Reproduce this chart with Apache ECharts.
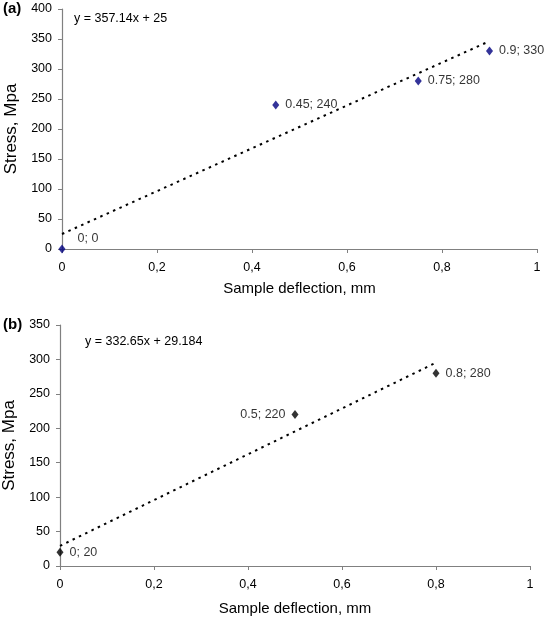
<!DOCTYPE html>
<html>
<head>
<meta charset="utf-8">
<script src="https://cdn.jsdelivr.net/npm/echarts@6/dist/echarts.min.js"></script>
<style>
html,body{margin:0;padding:0;background:#fff;}
#c{width:544px;height:617px;}
</style>
</head>
<body>
<div id="c"></div>
<script>
// Panel (a)
const xA = [0, 0.45, 0.75, 0.9];
const yA = [0, 240, 280, 330];
const trendA = [[0, 25], [0.9, 346.4]];
const eqA = 'y = 357.14x + 25';
// Panel (b)
const xB = [0, 0.5, 0.8];
const yB = [20, 220, 280];
const trendB = [[0, 29.2], [0.8, 295.3]];
const eqB = 'y = 332.65x + 29.184';
// ticks
const xTicks = [0, 0.2, 0.4, 0.6, 0.8, 1];

const FONT = '"Liberation Sans", Arial, sans-serif';
const axisGray = '#808080';

function xAxisCfg(gi, gap){
  return {
    type:'value', gridIndex:gi, min:0, max:1, interval:0.2,
    name:'Sample deflection, mm', nameLocation:'middle', nameGap:gap,
    nameTextStyle:{fontFamily:FONT, fontSize:15, color:'#000'},
    axisLine:{show:true, lineStyle:{color:axisGray, width:1.2}},
    axisTick:{show:true, length:4, lineStyle:{color:axisGray}},
    axisLabel:{margin:12, fontFamily:FONT, fontSize:12.5, color:'#000',
      formatter:v=>String(+v.toFixed(2)).replace('.',',')},
    splitLine:{show:false}
  };
}
function yAxisCfg(gi, max){
  return {
    type:'value', gridIndex:gi, min:0, max:max, interval:50,
    name:'Stress, Mpa', nameLocation:'middle', nameGap:38, nameRotate:90,
    nameTextStyle:{fontFamily:FONT, fontSize:17, color:'#000'},
    axisLine:{show:true, lineStyle:{color:axisGray, width:1.2}},
    axisTick:{show:true, length:4, lineStyle:{color:axisGray}},
    axisLabel:{margin:10, fontFamily:FONT, fontSize:12.5, color:'#000'},
    splitLine:{show:false}
  };
}
function pts(xs, ys, special){
  return xs.map((x,i)=>{
    const d = {value:[x, ys[i]]};
    if (special && special[i]) d.label = special[i];
    return d;
  });
}
const lblStyle = {show:true, position:'right', distance:6, fontFamily:FONT, fontSize:12.5, color:'#000',
  formatter:p=>p.value[0]+'; '+p.value[1]};

const chart = echarts.init(document.getElementById('c'), null, {renderer:'canvas'});
chart.setOption({
  animation:false,
  grid:[
    {left:62, top:9, width:475, height:240, containLabel:false, outerBoundsMode:'none'},
    {left:60, top:325, width:470, height:241, containLabel:false, outerBoundsMode:'none'}
  ],
  xAxis:[xAxisCfg(0,32), xAxisCfg(1,35)],
  yAxis:[yAxisCfg(0,400), yAxisCfg(1,350)],
  graphic:[
    {type:'text', left:3, top:1, style:{text:'(a)', font:'bold 15px '+FONT, fill:'#000'}},
    {type:'text', left:3, top:317, style:{text:'(b)', font:'bold 15px '+FONT, fill:'#000'}},
    {type:'text', left:74, top:12, style:{text:eqA, font:'12.5px '+FONT, fill:'#000'}},
    {type:'text', left:85, top:335, style:{text:eqB, font:'12.5px '+FONT, fill:'#000'}}
  ],
  series:[
    {type:'line', xAxisIndex:0, yAxisIndex:0, data:trendA, symbol:'none', silent:true,
      lineStyle:{color:'#000', width:2, type:[2.5,4.5]}, z:2},
    {type:'scatter', xAxisIndex:0, yAxisIndex:0, clip:false, symbol:'diamond', symbolSize:[7,9],
      itemStyle:{color:'#000080'}, label:lblStyle, z:5,
      data:pts(xA, yA, {0:{offset:[6,-10]}})},
    {type:'line', xAxisIndex:1, yAxisIndex:1, data:trendB, symbol:'none', silent:true,
      lineStyle:{color:'#000', width:2, type:[2.5,4.5]}, z:2},
    {type:'scatter', xAxisIndex:1, yAxisIndex:1, clip:false, symbol:'diamond', symbolSize:[7,9],
      itemStyle:{color:'#000'}, label:lblStyle, z:5,
      data:pts(xB, yB, {1:{position:'left', distance:6}})}
  ]
});
</script>
</body>
</html>
